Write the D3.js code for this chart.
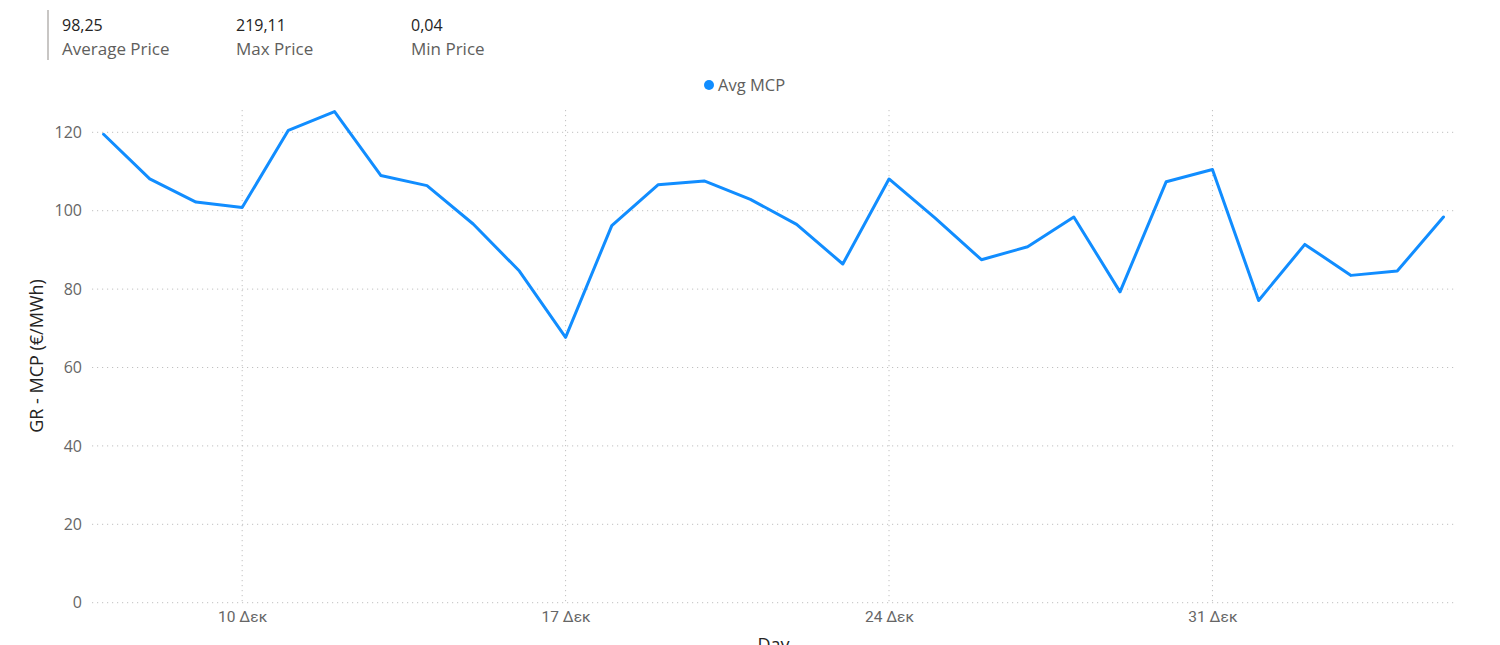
<!DOCTYPE html>
<html>
<head>
<meta charset="utf-8">
<script src="https://cdn.jsdelivr.net/npm/d3@7"></script>
<style>
  html, body { margin: 0; padding: 0; background: #fff; }
  svg { display: block; }
</style>
</head>
<body>
<svg id="chart" width="1500" height="645"></svg>
<script>
// ---- data ----
const days = ["2023-12-07","2023-12-08","2023-12-09","2023-12-10","2023-12-11","2023-12-12","2023-12-13","2023-12-14","2023-12-15","2023-12-16",
              "2023-12-17","2023-12-18","2023-12-19","2023-12-20","2023-12-21","2023-12-22","2023-12-23","2023-12-24","2023-12-25","2023-12-26",
              "2023-12-27","2023-12-28","2023-12-29","2023-12-30","2023-12-31","2024-01-01","2024-01-02","2024-01-03","2024-01-04","2024-01-05"];
const avgMCP = [119.5, 108.1, 102.2, 100.8, 120.5, 125.3, 109.0, 106.4, 96.6, 84.6,
                67.7, 96.2, 106.6, 107.6, 102.9, 96.5, 86.4, 108.1, 98.1, 87.5,
                90.8, 98.4, 79.3, 107.4, 110.5, 77.1, 91.4, 83.5, 84.6, 98.4];
const yTicks = [0, 20, 40, 60, 80, 100, 120];
const xTickDays = ["2023-12-10","2023-12-17","2023-12-24","2023-12-31"];
const greekMonths = ["Ιαν","Φεβ","Μαρ","Απρ","Μαϊ","Ιουν","Ιουλ","Αυγ","Σεπ","Οκτ","Νοε","Δεκ"];
const kpiValues = ["98,25", "219,11", "0,04"];
const kpiLabels = ["Average Price", "Max Price", "Min Price"];
const seriesName = "Avg MCP";
const yTitle = "GR - MCP (€/MWh)";
const xTitle = "Day";

// ---- chart ----
(function () {
const parse = d3.timeParse("%Y-%m-%d");
const data = days.map((d, i) => ({ date: parse(d), v: avgMCP[i] }));
const svg = d3.select("#chart");
const font = "'Open Sans', 'Segoe UI', sans-serif";
const axisFont = "Roboto, 'Open Sans', sans-serif";

const pL = 92, pR = 1455, pT = 110, pB = 602.7;
const dayMs = 86400000;
const x = d3.scaleTime()
  .domain([new Date(data[0].date.getTime() - 0.25 * dayMs), new Date(data[data.length - 1].date.getTime() + 0.25 * dayMs)])
  .range([pL, pR]);
const y = d3.scaleLinear().domain([0, 120]).range([pB, 132.3]);

// KPI cards
svg.append("rect").attr("x", 47).attr("y", 10).attr("width", 2).attr("height", 50).attr("fill", "#c8c6c4");
const kpiX = [62, 236, 411];
kpiValues.forEach((v, i) => {
  svg.append("text").attr("x", kpiX[i]).attr("y", 31).attr("font-family", font).attr("font-size", 16)
    .attr("fill", "#252423").text(v);
  svg.append("text").attr("x", kpiX[i]).attr("y", 54.5).attr("font-family", font).attr("font-size", 17)
    .attr("fill", "#605e5c").text(kpiLabels[i]);
});

// Legend
svg.append("circle").attr("cx", 709).attr("cy", 85).attr("r", 5).attr("fill", "#118dff");
svg.append("text").attr("x", 718).attr("y", 90.5).attr("font-family", font).attr("font-size", 16.5)
  .attr("fill", "#605e5c").text(seriesName);

// Horizontal gridlines
svg.append("g").selectAll("line").data(yTicks).join("line")
  .attr("x1", pL).attr("x2", pR)
  .attr("y1", d => y(d)).attr("y2", d => y(d))
  .attr("stroke", "#c0c0c0").attr("stroke-width", 1).attr("stroke-dasharray", "1.2,3.8");

// Vertical gridlines
const xTicks = xTickDays.map(parse);
svg.append("g").selectAll("line").data(xTicks).join("line")
  .attr("x1", d => x(d)).attr("x2", d => x(d))
  .attr("y1", pT).attr("y2", pB)
  .attr("stroke", "#c0c0c0").attr("stroke-width", 1).attr("stroke-dasharray", "1.2,3.8");

// Y axis
const yAxis = d3.axisLeft(y).tickValues(yTicks).tickSize(0).tickPadding(0);
const yg = svg.append("g").attr("transform", `translate(82,0)`).call(yAxis);
yg.select(".domain").remove();
yg.selectAll("text").attr("font-family", font).attr("font-size", 16).attr("fill", "#666666");

// X axis
const xAxis = d3.axisBottom(x).tickValues(xTicks).tickSize(0).tickPadding(0)
  .tickFormat(d => d.getDate() + " " + greekMonths[d.getMonth()]);
const xg = svg.append("g").attr("transform", `translate(0,${pB + 8})`).call(xAxis);
xg.select(".domain").remove();
xg.selectAll("text").attr("font-family", axisFont).attr("font-size", 15.5).attr("fill", "#666666");

// Axis titles
svg.append("text").attr("transform", `translate(43,356) rotate(-90)`).attr("text-anchor", "middle")
  .attr("font-family", font).attr("font-size", 18).attr("fill", "#252423").text(yTitle);
svg.append("text").attr("x", (pL + pR) / 2).attr("y", 651).attr("text-anchor", "middle")
  .attr("font-family", font).attr("font-size", 18).attr("fill", "#252423").text(xTitle);

// Line
const line = d3.line().x(d => x(d.date)).y(d => y(d.v));
svg.append("path").datum(data).attr("d", line)
  .attr("fill", "none").attr("stroke", "#118dff").attr("stroke-width", 3)
  .attr("stroke-linejoin", "round").attr("stroke-linecap", "round");
})();
</script>
</body>
</html>
